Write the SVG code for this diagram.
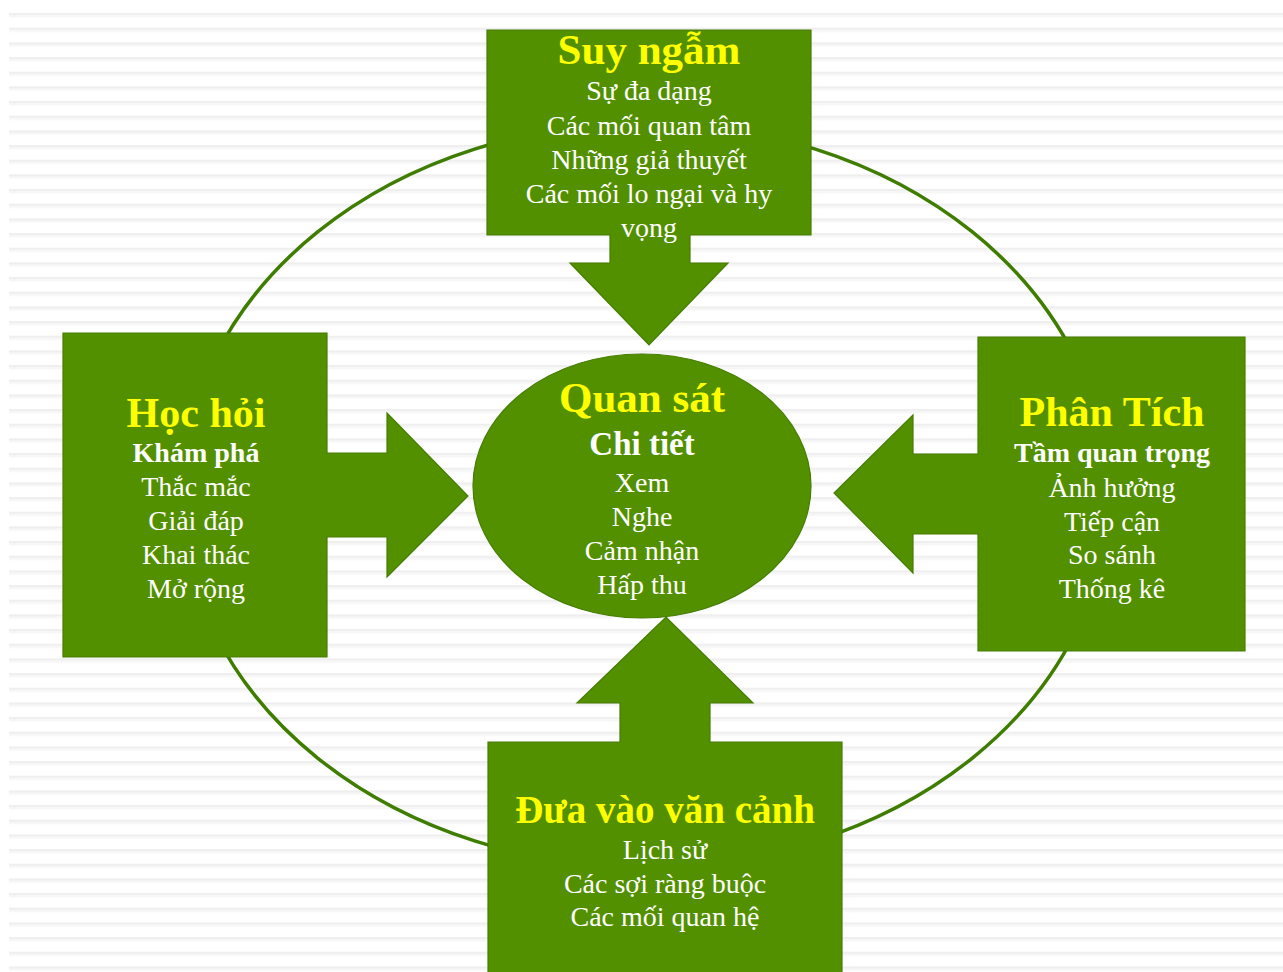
<svg xmlns="http://www.w3.org/2000/svg" width="1283" height="972" viewBox="0 0 1283 972">
<defs>
<pattern id="stripes" patternUnits="userSpaceOnUse" x="0" y="13" width="20" height="14.667">
<rect x="0" y="0" width="20" height="14.667" fill="#ffffff"/>
<rect x="0" y="0" width="20" height="2" fill="#efefef"/>
<rect x="0" y="2" width="20" height="2.2" fill="#f6f6f6"/>
</pattern>
<style>
.shape{fill:#529000;stroke:#467d00;stroke-width:1.2}
.ring{fill:none;stroke:#3f7d00;stroke-width:3.5}
.t{font-family:"Liberation Serif","Times New Roman",serif;text-anchor:middle}
.title{font-size:42px;font-weight:bold;fill:#ffff00}
.sub{font-size:28px;fill:#ffffff}
.subb{font-size:28px;font-weight:bold;fill:#ffffff}
.subb2{font-size:33px;font-weight:bold;fill:#ffffff}
</style>
</defs>
<rect x="0" y="0" width="1283" height="972" fill="#ffffff"/>
<rect x="9" y="13" width="1274" height="959" fill="url(#stripes)"/>

<g id="connectors">
<ellipse class="ring" cx="645" cy="495" rx="463" ry="372"/>
</g>

<g id="node-suy-ngam">
<path class="shape" d="M487,30 H811 V235 H690 V263 H728 L649,345 L570,263 H610 V235 H487 Z"/>
<text class="t title" x="649" y="64" style="font-size:43px">Suy ngẫm</text>
<text class="t sub" x="649" y="100">Sự đa dạng</text>
<text class="t sub" x="649" y="135">Các mối quan tâm</text>
<text class="t sub" x="649" y="169">Những giả thuyết</text>
<text class="t sub" x="649" y="203">Các mối lo ngại và hy</text>
<text class="t sub" x="649" y="237">vọng</text>
</g>

<g id="node-hoc-hoi">
<path class="shape" d="M63,333 H327 V453 H387 V413 L468,496 L387,577 V537 H327 V657 H63 Z"/>
<text class="t title" x="196" y="427">Học hỏi</text>
<text class="t subb" x="196" y="462">Khám phá</text>
<text class="t sub" x="196" y="496">Thắc mắc</text>
<text class="t sub" x="196" y="530">Giải đáp</text>
<text class="t sub" x="196" y="564">Khai thác</text>
<text class="t sub" x="196" y="598">Mở rộng</text>
</g>

<g id="node-quan-sat">
<ellipse class="shape" cx="642" cy="486" rx="169" ry="132"/>
<text class="t title" x="642" y="412" style="font-size:43px">Quan sát</text>
<text class="t subb2" x="642" y="455">Chi tiết</text>
<text class="t sub" x="642" y="492">Xem</text>
<text class="t sub" x="642" y="526">Nghe</text>
<text class="t sub" x="642" y="560">Cảm nhận</text>
<text class="t sub" x="642" y="594">Hấp thu</text>
</g>

<g id="node-phan-tich">
<path class="shape" d="M978,337 H1245 V651 H978 V534 H913 V573 L834,493 L913,415 V454 H978 Z"/>
<text class="t title" x="1112" y="426">Phân Tích</text>
<text class="t subb" x="1112" y="462">Tầm quan trọng</text>
<text class="t sub" x="1112" y="497">Ảnh hưởng</text>
<text class="t sub" x="1112" y="531">Tiếp cận</text>
<text class="t sub" x="1112" y="564">So sánh</text>
<text class="t sub" x="1112" y="598">Thống kê</text>
</g>

<g id="node-dua-vao-van-canh">
<path class="shape" d="M488,742 H620 V703 H577 L666,617 L753,703 H710 V742 H842 V980 H488 Z"/>
<text class="t title" x="665" y="823" style="font-size:39px">Đưa vào văn cảnh</text>
<text class="t sub" x="665" y="859">Lịch sử</text>
<text class="t sub" x="665" y="893">Các sợi ràng buộc</text>
<text class="t sub" x="665" y="926">Các mối quan hệ</text>
</g>
</svg>
